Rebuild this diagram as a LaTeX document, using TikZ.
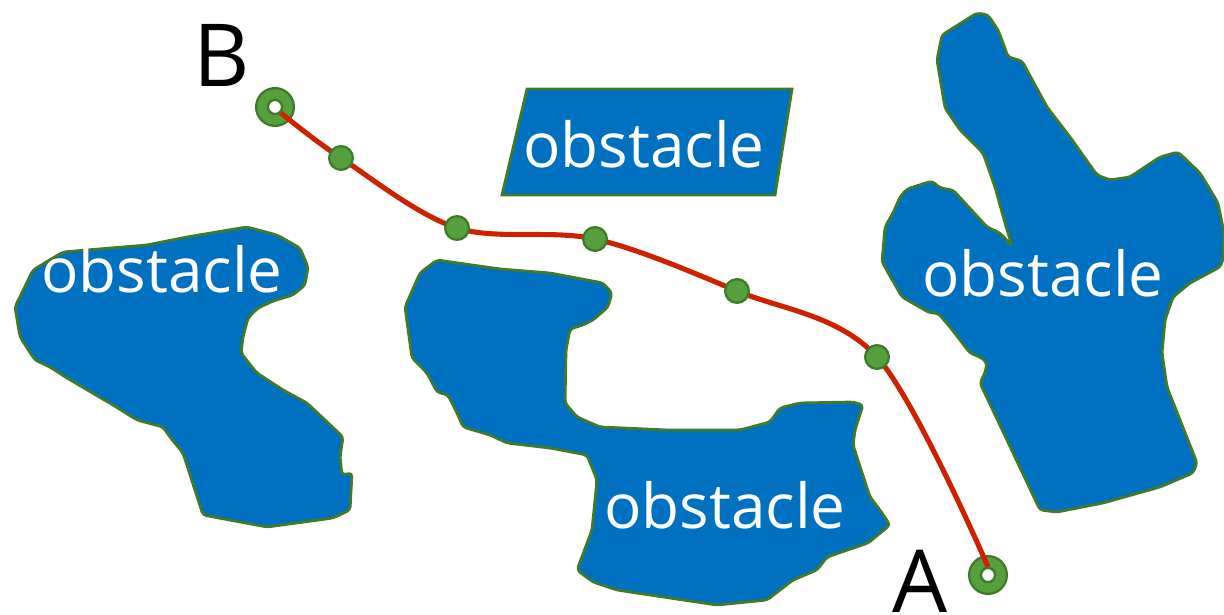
\documentclass[tikz,border=0pt]{standalone}
\usepackage{fontspec}
\setmainfont{Open Sans}
\definecolor{obsblue}{HTML}{0070C0}
\definecolor{obsedge}{HTML}{3F7B2A}
\definecolor{dotfill}{HTML}{55A03C}
\definecolor{dotedge}{HTML}{3E7A2A}
\definecolor{pathred}{HTML}{CC2200}
\tikzset{
  obstacle/.style={fill=obsblue, draw=obsedge, line width=1.6pt, rounded corners=2pt},
  obslabel/.style={text=white, font=\fontsize{35.3}{40}\selectfont, anchor=base, inner sep=0pt},
  endlabel/.style={text=black, font=\fontsize{49.5}{56}\selectfont, anchor=base, inner sep=0pt},
  waydot/.style={circle, fill=dotfill, draw=dotedge, line width=1.3pt, minimum size=13.5pt, inner sep=0pt},
  ringouter/.style={circle, fill=dotfill, draw=dotedge, line width=1.3pt, minimum size=21.5pt, inner sep=0pt},
  ringinner/.style={circle, fill=white, draw=dotedge, line width=1.3pt, minimum size=8pt, inner sep=0pt},
  route/.style={draw=pathred, line width=2.9pt}
}
\begin{document}
\begin{tikzpicture}[x=0.02cm, y=-0.02cm]
\useasboundingbox (0,0) rectangle (1224,615);

% left obstacle
\draw[obstacle] (247,227) -- (277,235) -- (300,248) -- (308,267) -- (305,285) -- (293,295) -- (273,301) -- (258,308) -- (248,318) -- (243,337) -- (241,353) -- (248,362) -- (257,373) -- (283,390) -- (307,403) -- (343,437) -- (340,457) -- (342,475) -- (352,473) -- (350,510) -- (333,518) -- (267,527) -- (203,515) -- (183,453) -- (170,437) -- (163,427) -- (137,420) -- (113,405) -- (67,378) -- (50,367) -- (35,360) -- (20,337) -- (15,307) -- (33,270) -- (63,252) -- (147,245) -- (187,237) -- cycle;
\node[obslabel] (oleft) at (162,292) {obstacle};

% middle obstacle
\draw[obstacle] (437,260) -- (500,269) -- (550,273) -- (603,283) -- (612,293) -- (608,307) -- (593,320) -- (583,325) -- (570,329) -- (566,350) -- (565,403) -- (577,417) -- (600,427) -- (667,430) -- (740,430) -- (770,422) -- (780,408) -- (800,403) -- (853,402) -- (863,405) -- (855,430) -- (853,445) -- (870,497) -- (880,510) -- (890,525) -- (868,543) -- (827,557) -- (817,570) -- (793,580) -- (767,600) -- (717,605) -- (670,598) -- (617,590) -- (593,582) -- (577,570) -- (592,530) -- (597,480) -- (587,455) -- (550,448) -- (507,443) -- (490,435) -- (463,427) -- (457,413) -- (448,395) -- (437,392) -- (427,373) -- (412,358) -- (405,307) -- (420,273) -- cycle;
\node[obslabel] (omid) at (725,528) {obstacle};

% right obstacle
\draw[obstacle] (977,13) -- (988,15) -- (998,30) -- (1003,43) -- (1008,57) -- (1022,61) -- (1047,107) -- (1070,137) -- (1097,175) -- (1110,180) -- (1130,177) -- (1160,157) -- (1178,152) -- (1200,173) -- (1218,203) -- (1224,233) -- (1223,260) -- (1220,267) -- (1190,283) -- (1173,297) -- (1165,320) -- (1162,353) -- (1167,387) -- (1197,463) -- (1193,473) -- (1160,487) -- (1103,503) -- (1057,512) -- (1040,510) -- (980,383) -- (985,373) -- (987,363) -- (982,358) -- (970,353) -- (950,327) -- (938,313) -- (930,313) -- (902,297) -- (882,262) -- (885,227) -- (893,213) -- (900,197) -- (907,189) -- (932,181) -- (940,188) -- (953,190) -- (987,227) -- (1000,233) -- (1012,246) -- (1005,223) -- (995,187) -- (983,153) -- (960,130) -- (945,108) -- (937,60) -- (942,35) -- cycle;
\node[obslabel] (oright) at (1043,296) {obstacle};

% top obstacle (parallelogram)
\draw[obstacle, rounded corners=0pt] (527,89) -- (792,89) -- (775,195) -- (502,195) -- cycle;
\node[obslabel] (otop) at (644,168) {obstacle};

% end labels
\node[endlabel] (labB) at (222,87) {B};
\node[endlabel] (labA) at (920,612) {A};

% end rings
\node[ringouter] (Bout) at (275,107) {};
\node[ringouter] (Aout) at (988,575) {};

% way points
\coordinate (d1) at (341,158);
\coordinate (d2) at (457,228);
\coordinate (d3) at (595,239);
\coordinate (d4) at (737,291);
\coordinate (d5) at (877,357);

\node[ringinner] (Bin) at (Bout) {};
\node[ringinner] (Ain) at (Aout) {};

% route
\draw[route] plot[smooth, tension=0.55] coordinates {(Bin.south east) (d1) (d2) (d3) (d4) (d5) (Ain.north)};

\node[ringinner] (Bhole) at (Bout) {};
\node[ringinner] (Ahole) at (Aout) {};

\node[waydot] (w1) at (d1) {};
\node[waydot] (w2) at (d2) {};
\node[waydot] (w3) at (d3) {};
\node[waydot] (w4) at (d4) {};
\node[waydot] (w5) at (d5) {};
\end{tikzpicture}
\end{document}
